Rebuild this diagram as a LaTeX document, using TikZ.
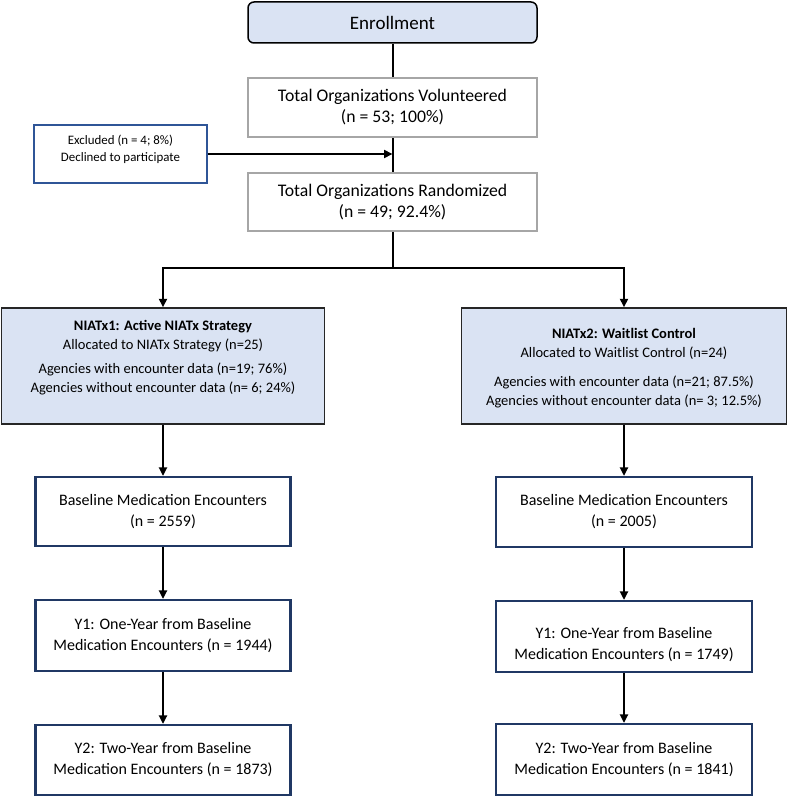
\documentclass[tikz,border=0pt]{standalone}
\usepackage{fontspec}
\setmainfont{Carlito}
\usetikzlibrary{arrows.meta}
\definecolor{boxblue}{HTML}{DAE3F3}
\definecolor{boxgray}{HTML}{A6A6A6}
\definecolor{exblue}{HTML}{2F5597}
\definecolor{navy}{HTML}{203864}
\definecolor{armdark}{HTML}{262626}
\tikzset{
  base/.style={rectangle, align=center, inner sep=0pt, text=black},
  enrollbox/.style={base, draw=black, fill=boxblue, rounded corners=6pt, line width=1.5pt, minimum width=289pt, minimum height=41pt, font=\fontsize{19}{22}\selectfont},
  graybox/.style={base, draw=boxgray, line width=1.5pt, minimum width=289pt, minimum height=58pt, font=\fontsize{17.7}{21}\selectfont},
  exclbox/.style={base, draw=exblue, line width=1.2pt, minimum width=173pt, minimum height=58pt, font=\fontsize{12.9}{16.7}\selectfont},
  armbox/.style={base, draw=armdark, fill=boxblue, line width=1.5pt, minimum height=116pt, font=\fontsize{14.5}{18.5}\selectfont},
  navybox/.style={base, draw=navy, line width=2.2pt, minimum height=70pt, font=\fontsize{16}{21}\selectfont},
  conn/.style={line width=2pt, draw=black},
  arr/.style={conn, -{Triangle[length=8.5pt,width=8pt]}},
}
\begin{document}
\begin{tikzpicture}[x=1pt, y=-1pt]
\useasboundingbox (0,0) rectangle (788,797);
% top column
\node[enrollbox] (enroll) at (392.5,22.5) {Enrollment};
\node[graybox, minimum height=59pt] (vol) at (392.5,107.5) {Total Organizations Volunteered\\(n = 53; 100\%)};
\node[exclbox] (excl) at (120.5,154) {\raisebox{4pt}[\height][\depth]{\begin{tabular}{@{}c@{}}Excluded (n = 4; 8\%)\\Declined to participate\end{tabular}}};
\node[graybox] (rand) at (392.5,202) {Total Organizations Randomized\\(n = 49; 92.4\%)};
% arms
\node[armbox, minimum width=323pt] (n1) at (163,366) {\raisebox{8pt}[\height][\depth]{\begin{tabular}{@{}c@{}}\textbf{NIATx1: Active NIATx Strategy}\\Allocated to NIATx Strategy (n=25)\\[6pt]Agencies with encounter data (n=19; 76\%)\\Agencies without encounter data (n= 6; 24\%)\end{tabular}}};
\node[armbox, minimum width=325pt] (n2) at (624,366) {\raisebox{-2.5pt}[\height][\depth]{\begin{tabular}{@{}c@{}}\textbf{NIATx2: Waitlist Control}\\Allocated to Waitlist Control (n=24)\\[11pt]Agencies with encounter data (n=21; 87.5\%)\\Agencies without encounter data (n= 3; 12.5\%)\end{tabular}}};
% left column
\node[navybox, minimum width=255pt, minimum height=69pt] (b1) at (163,511.5) {Baseline Medication Encounters\\(n = 2559)};
\node[navybox, minimum width=255pt, minimum height=71pt] (y1l) at (163,635.5) {Y1: One-Year from Baseline\\Medication Encounters (n = 1944)};
\node[navybox, minimum width=255pt] (y2l) at (163,760) {Y2: Two-Year from Baseline\\Medication Encounters (n = 1873)};
% right column
\node[navybox, minimum width=256pt] (b2) at (624,512) {Baseline Medication Encounters\\(n = 2005)};
\node[navybox, minimum width=256pt, minimum height=71pt] (y1r) at (624,636.5) {\raisebox{-8pt}[\height][\depth]{\begin{tabular}{@{}c@{}}Y1: One-Year from Baseline\\Medication Encounters (n = 1749)\end{tabular}}};
\node[navybox, minimum width=256pt, minimum height=71pt] (y2r) at (624,759.5) {Y2: Two-Year from Baseline\\Medication Encounters (n = 1841)};
% connectors
\coordinate (join) at (vol.south |- excl.east);
\coordinate (split) at (392.5,268);
\draw[conn] (enroll.south) -- (vol.north);
\draw[conn] (vol.south) -- (rand.north);
\draw[arr] (excl.east) -- (join);
\draw[conn] (rand.south) -- (split);
\draw[arr] (split) -| (n1.north);
\draw[arr] (split) -| (n2.north);
\draw[arr] (n1.south) -- (b1.north);
\draw[arr] (b1.south) -- (y1l.north);
\draw[arr] (y1l.south) -- (y2l.north);
\draw[arr] (n2.south) -- (b2.north);
\draw[arr] (b2.south) -- (y1r.north);
\draw[arr] (y1r.south) -- (y2r.north);
\end{tikzpicture}
\end{document}
